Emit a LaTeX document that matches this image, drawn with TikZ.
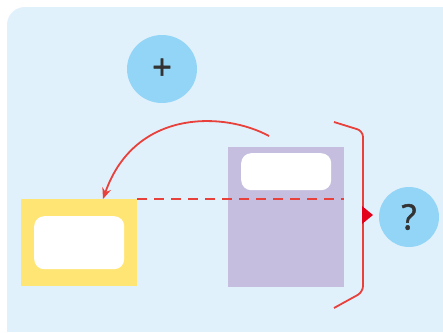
\documentclass[tikz,border=0pt]{standalone}
\usepackage{fontspec}
\setmainfont{Open Sans}
\newfontfamily\symfont[FakeBold=1.4]{Open Sans}
\usetikzlibrary{arrows.meta,shapes.geometric}
\definecolor{bgblue}{HTML}{E1F1FC}
\definecolor{circblue}{HTML}{93D5F6}
\definecolor{yel}{HTML}{FFE574}
\definecolor{purp}{HTML}{C5BEDF}
\definecolor{redl}{HTML}{E8403A}
\definecolor{redd}{HTML}{E3001B}
\definecolor{txt}{HTML}{333333}
\tikzset{
  blob/.style={ellipse, fill=circblue, inner sep=0pt, text=txt, font=\symfont\fontsize{35}{35}\selectfont},
  box/.style={fill=#1, inner sep=0pt, anchor=north west},
  slot/.style={fill=white, rounded corners=10pt, inner sep=0pt, anchor=north west},
  redline/.style={draw=redl, line width=1.8pt},
}
\begin{document}
\begin{tikzpicture}[x=1pt,y=-1pt]
\useasboundingbox (0,0) rectangle (443,332);
\fill[white] (0,0) rectangle (443,332);
\fill[bgblue, rounded corners=18pt] (7,7) rectangle (460,350);
\fill[white] (0,332) rectangle (443,345);
\node[blob, minimum width=70pt, minimum height=68pt] (plus) at (162,69) {+};
\node[blob, circle, minimum size=60pt] (q) at (409,217) {?};
\node[box=yel, minimum width=116pt, minimum height=87pt] (yb) at (21,199) {};
\node[slot, minimum width=90pt, minimum height=53pt] (ys) at (34,216) {};
\node[box=purp, minimum width=116pt, minimum height=140pt] (pb) at (228,147) {};
\node[slot, minimum width=90pt, minimum height=37pt] (ps) at (241,153) {};
\coordinate (as) at (269,136);
\coordinate (ae) at (103,199);
\draw[redline, -{Stealth[length=11pt,width=9pt]}] (as) .. controls (225,112) and (135,108) .. (ae);
\draw[draw=redl, line width=1.6pt, dash pattern=on 10pt off 7pt] (yb.north east) -- (pb.east |- yb.north east);
\coordinate (b1) at (334,122);
\coordinate (b2) at (363,131);
\coordinate (b3) at (363,292);
\coordinate (b4) at (334,308);
\draw[redline, rounded corners=6pt] (b1) -- (b2) -- (b3) -- (b4);
\fill[redd] (362,206) -- (373,215) -- (362,224) -- cycle;
\end{tikzpicture}
\end{document}
